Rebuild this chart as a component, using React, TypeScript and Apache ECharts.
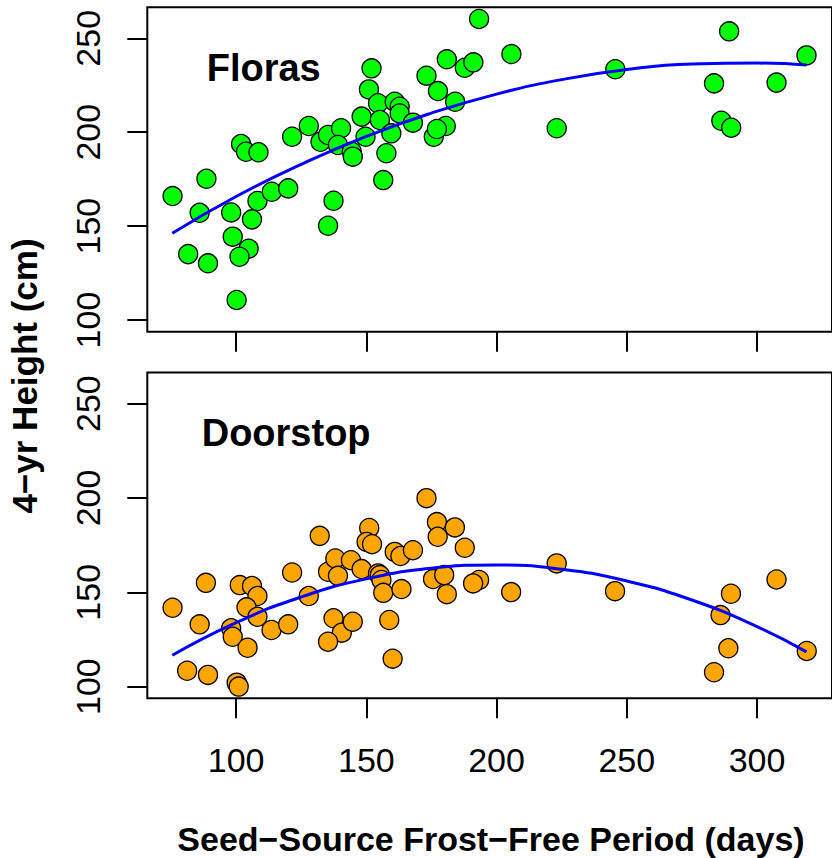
import React, { useEffect, useRef } from "react";
import * as echarts from "echarts";

// Tick labels
const xTicks = [100, 150, 200, 250, 300];
const yTicks = [100, 150, 200, 250];

// Panel labels and axis titles
const panelNames = ["Floras", "Doorstop"];
const xTitle = "Seed\u2212Source Frost\u2212Free Period (days)";
const yTitle = "4\u2212yr Height (cm)";

// Floras: [frost-free days, 4-yr height]
const florasPoints: number[][] = [
  [75.6, 166], [81.6, 135.1], [89.2, 130.2], [86, 157.1], [88.6, 175.2],
  [98.1, 157.3], [98.7, 144.4], [104.8, 138], [101.3, 133.7], [100.2, 110.7],
  [101.9, 193.7], [103.8, 189.6], [108.6, 189.3], [106.1, 153.6], [108.2, 163.4],
  [113.7, 168.3], [120, 170.1], [121.5, 197.6], [127.9, 203.3], [137.4, 163.5],
  [135.3, 150.2], [132.4, 194.9], [135.3, 198.5], [140.3, 202.1], [139.1, 193.2],
  [144.4, 189.6], [144.8, 187], [148.2, 208.3], [149.7, 197.6], [152, 234],
  [151, 222.8], [154.5, 215.4], [155.2, 206.5], [156.5, 174.5], [157.7, 188.8],
  [193.3, 260.3], [205.7, 241.6], [180.9, 238.8], [187.8, 234.3], [191.1, 237.2],
  [173.1, 230.1], [177.5, 221.9], [184.1, 216.2], [160.9, 216.2], [162.8, 213.6],
  [162.8, 210], [167.9, 205.1], [159.6, 199.4], [180.5, 203.3], [175.9, 197.6],
  [177.1, 201.7], [223.1, 202.1], [245.6, 233.5], [289.3, 253.7], [283.5, 226],
  [307.5, 226.4], [319, 240.9], [286.3, 206.1], [290.1, 202.4],
];

// Doorstop: [frost-free days, 4-yr height]
const doorstopPoints: number[][] = [
  [75.6, 141.8], [81.2, 108.4], [89.2, 106.2], [86, 133], [88.4, 155],
  [98.1, 130.9], [98.7, 126.4], [100.2, 102.1], [101, 100], [101.4, 153.8],
  [106.1, 153.3], [108.2, 148], [104, 142], [108.2, 137], [104.4, 120.6],
  [113.6, 130], [120, 133], [121.5, 160.5], [127.9, 148], [132.1, 179.9],
  [135.3, 160.9], [138.1, 167.9], [139.1, 158.7], [144.1, 167], [148.2, 162.3],
  [137.4, 136.2], [140.6, 128.6], [144.8, 134.4], [135.3, 123.8], [151.1, 184.1],
  [150.1, 176.7], [152.2, 175.5], [154.5, 160], [155.2, 159.1], [155.8, 156.5],
  [156.5, 149.7], [158.8, 135.3], [160.1, 114.8], [160.9, 171.4], [163.1, 169.2],
  [167.9, 172.3], [163.5, 151.7], [173.1, 199.9], [177.1, 187.2], [184, 184.4],
  [177.4, 179.4], [187.8, 173.6], [175.6, 157], [179.9, 159.1], [180.9, 149],
  [193.3, 156.5], [191, 154.7], [205.6, 150.1], [223.1, 165.3], [245.5, 150.6],
  [290, 149.2], [286, 137.9], [289, 120.3], [283.5, 107.6], [307.5, 156.8],
  [319.1, 118.9],
];

// Fitted curves
const florasFit: number[][] = [
  [75.5, 146.2], [100, 165.8], [125, 182.9], [150, 197.8], [175, 210.2],
  [200, 220.3], [225, 228.0], [250, 233.4], [275, 236.3], [300, 236.8], [319, 235.8],
];
const doorstopFit: number[][] = [
  [75.5, 116.6], [100, 133.9], [125, 147.5], [150, 157.1], [175, 162.7],
  [200, 164.5], [225, 162.2], [250, 156.0], [275, 145.9], [300, 131.8], [319, 118.4],
];

const FONT = "Liberation Sans, Arial, Helvetica, sans-serif";

export default function App() {
  const ref = useRef<HTMLDivElement>(null);
  useEffect(() => {
    if (!ref.current) return;
    const chart = echarts.init(ref.current, undefined, { renderer: "svg" });
    const xMin = 65.9;
    const xMax = 328.8;
    const yMin = 93.8;
    const yMax = 266.5;
    const gridBase = {
      left: 147.3,
      width: 690.4,
      show: true,
      borderColor: "#000",
      borderWidth: 2,
      backgroundColor: "transparent",
    };
    const tickStyle = { color: "#000", width: 2 };
    const mkX = (idx: number, showLabel: boolean) => ({
      type: "value",
      gridIndex: idx,
      min: xMin,
      max: xMax,
      axisLine: { show: false },
      splitLine: { show: false },
      axisTick: { show: true, length: 20, lineStyle: tickStyle, customValues: xTicks },
      axisLabel: {
        show: showLabel,
        customValues: xTicks,
        fontSize: 34,
        color: "#000",
        fontFamily: FONT,
        margin: 45,
      },
    });
    const mkY = (idx: number) => ({
      type: "value",
      gridIndex: idx,
      min: yMin,
      max: yMax,
      axisLine: { show: false },
      splitLine: { show: false },
      axisTick: { show: true, length: 20, lineStyle: tickStyle, customValues: yTicks },
      axisLabel: {
        show: true,
        customValues: yTicks,
        rotate: 90,
        fontSize: 34,
        color: "#000",
        fontFamily: FONT,
        margin: 42,
      },
    });
    const scatter = (idx: number, data: number[][], color: string) => ({
      type: "scatter",
      xAxisIndex: idx,
      yAxisIndex: idx,
      data,
      symbol: "circle",
      symbolSize: 19,
      itemStyle: { color, borderColor: "#000", borderWidth: 1.3, opacity: 1 },
      z: 2,
    });
    const fit = (idx: number, data: number[][]) => ({
      type: "line",
      xAxisIndex: idx,
      yAxisIndex: idx,
      data,
      smooth: true,
      showSymbol: false,
      symbol: "none",
      lineStyle: { color: "#0000FF", width: 3 },
      z: 3,
    });
    chart.setOption({
      animation: false,
      backgroundColor: "#fff",
      grid: [
        { ...gridBase, top: 7.3, height: 324.4 },
        { ...gridBase, top: 372.5, height: 325.8 },
      ],
      xAxis: [mkX(0, false), mkX(1, true)],
      yAxis: [mkY(0), mkY(1)],
      series: [
        scatter(0, florasPoints, "#00FF00"),
        fit(0, florasFit),
        scatter(1, doorstopPoints, "#FFA500"),
        fit(1, doorstopFit),
      ],
      graphic: [
        {
          type: "text",
          x: 206.7,
          y: 67.5,
          style: {
            text: panelNames[0],
            font: `bold 38px ${FONT}`,
            fill: "#000",
            textAlign: "left",
            textVerticalAlign: "middle",
          },
        },
        {
          type: "text",
          x: 201.7,
          y: 432.5,
          style: {
            text: panelNames[1],
            font: `bold 38px ${FONT}`,
            fill: "#000",
            textAlign: "left",
            textVerticalAlign: "middle",
          },
        },
        {
          type: "text",
          x: 491,
          y: 839,
          style: {
            text: xTitle,
            font: `bold 34px ${FONT}`,
            fill: "#000",
            textAlign: "center",
            textVerticalAlign: "middle",
          },
        },
        {
          type: "text",
          x: 24,
          y: 376,
          rotation: Math.PI / 2,
          style: {
            text: yTitle,
            font: `bold 35px ${FONT}`,
            fill: "#000",
            textAlign: "center",
            textVerticalAlign: "middle",
          },
        },
      ],
    });
    return () => chart.dispose();
  }, []);
  return (
    <div
      ref={ref}
      style={{ position: "fixed", left: 0, top: 0, width: 832, height: 858, background: "#fff" }}
    />
  );
}
